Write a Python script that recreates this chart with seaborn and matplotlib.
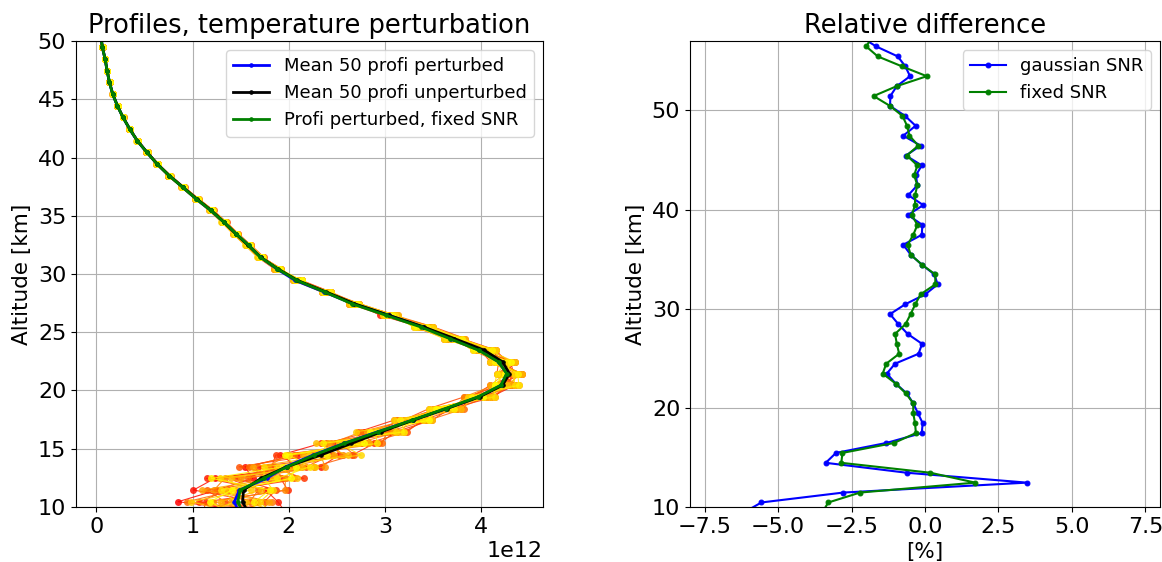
import numpy as np
import pandas as pd
import matplotlib
matplotlib.use("Agg")
import matplotlib.pyplot as plt
import seaborn as sns

# altitude grid [km]
ALT_KM = [9.45, 10.45, 11.45, 12.45, 13.45, 14.45, 15.45, 16.45, 17.45, 18.45,
          19.45, 20.45, 21.45, 22.45, 23.45, 24.45, 25.45, 26.45, 27.45, 28.45,
          29.45, 30.45, 31.45, 32.45, 33.45, 34.45, 35.45, 36.45, 37.45, 38.45,
          39.45, 40.45, 41.45, 42.45, 43.45, 44.45, 45.45, 46.45, 47.45, 48.45,
          49.45, 50.45, 51.45, 52.45, 53.45, 54.45, 55.45, 56.45, 57.45]

# mean unperturbed profile, units of 1e12
MEAN_UNPERT = [1.58, 1.52, 1.53, 1.71, 1.98, 2.33, 2.65, 2.96, 3.29, 3.64,
               3.98, 4.22, 4.29, 4.22, 4.03, 3.72, 3.40, 3.04, 2.68, 2.39,
               2.09, 1.885, 1.706, 1.579, 1.448, 1.327, 1.196, 1.044, 0.90, 0.758,
               0.634, 0.527, 0.427, 0.348, 0.279, 0.22, 0.172, 0.138, 0.114, 0.093,
               0.065, 0.048, 0.038, 0.031, 0.025, 0.020, 0.016, 0.013, 0.011]

# relative difference to the unperturbed mean [%]
REL_GAUSS = [-6.16, -5.57, -2.78, 3.47, -0.63, -3.38, -3.03, -1.32, -0.11, -0.08,
             -0.24, -0.40, -0.62, -1.00, -1.30, -1.02, -0.22, -0.10, -0.59, -0.91,
             -1.19, -0.67, 0.01, 0.43, 0.32, -0.11, -0.49, -0.74, -0.11, -0.09,
             -0.58, -0.06, -0.57, -0.26, -0.31, -0.11, -0.65, -0.15, -0.74, -0.32,
             -0.68, -1.19, -1.18, -0.96, -0.51, -0.67, -0.93, -1.66, -2.20]
REL_FIXED = [-3.50, -3.29, -2.21, 1.71, 0.18, -2.85, -2.81, -1.06, -0.31, -0.34,
             -0.40, -0.40, -0.65, -1.00, -1.44, -1.32, -0.88, -0.96, -1.02, -0.66,
             -0.49, -0.33, -0.15, 0.35, 0.35, -0.11, -0.49, -0.59, -0.40, -0.26,
             -0.45, -0.34, -0.34, -0.26, -0.37, -0.26, -0.62, -0.23, -0.53, -0.61,
             -0.77, -1.19, -1.75, -0.96, 0.06, -0.79, -1.61, -2.00, -1.79]

# single perturbed profiles: deviation [%] from the mean, 9.45 .. 30.45 km
PERT_LOW = [
    [12, -44, -18, -5, -22, -10, 4, -6, 2, -3, 1, 2, -1, 3, -2, 1, -2, 2, -1, 1, -1, 1],
    [-20, 10, -34, -28, 6, -18, -12, 3, -5, 2, -3, -1, 3, -2, 1, -3, 2, -1, 2, -2, 1, -1],
    [25, 24, 15, -33, 18, 8, -6, 8, 4, -4, 3, 3, -2, 1, 3, 2, -1, -3, 1, 0, -2, 2],
    [-30, -25, 30, 12, -15, 14, 9, -8, -6, 4, -2, -3, 2, -3, -1, 3, 3, 1, -2, 2, 2, -2],
    [5, -30, -10, 26, -8, -20, 11, 5, 6, 1, 4, 1, 1, 2, 2, -2, -3, 2, 2, -1, 0, 1],
    [-10, 15, 22, -15, 10, 5, -10, -4, -3, -5, -4, 4, -3, -1, -3, 0, 1, -2, -2, 2, -1, 0],
    [18, -12, -25, 20, -25, -3, 6, 9, 3, 3, 2, -2, 2, 0, 2, 2, -2, 3, 0, -2, 2, -1],
    [-25, 5, 10, -8, 14, 15, -4, -2, -4, -2, 3, 2, -2, 2, -2, -2, 2, 0, 2, 1, -1, 2],
    [30, -38, -5, 5, -20, -12, 12, 2, 5, 5, -3, -1, 3, -2, 3, 1, -1, -2, 1, 2, 1, -2],
    [-15, 20, -20, -22, 2, 10, -8, -7, -2, -3, 1, 3, -3, 3, -1, -3, 3, 2, -1, -2, -2, 1],
    [10, -20, 28, 15, -10, -15, 2, 6, -5, 2, -4, -2, 1, -3, 1, 2, 0, -1, -2, 1, 2, 0],
    [-5, -8, -2, -12, 20, 0, -2, -3, 1, -1, 2, 1, -1, 1, 0, -1, 1, 1, 1, -1, 0, -1],
    [8, 18, -28, 8, -18, 6, -9, 4, -3, 3, -2, 2, 2, -1, -2, 2, 1, -2, 1, -1, 1, 1],
    [-18, -15, 12, -18, 8, -8, 7, -5, 4, -2, 2, -3, -1, 2, 2, -1, -2, 1, -1, 2, -1, -1],
    [22, 2, -12, 22, -5, 12, -14, 7, -1, 4, -1, 1, 3, -2, -2, 3, 2, -1, 2, 0, 1, -2],
    [-8, -35, 5, -25, 15, -5, 3, -9, 6, -4, 3, -1, -2, 3, 1, -2, -1, 3, -2, 1, -2, 2],
    [15, 12, 20, 2, -12, 18, -5, 5, -6, 1, -3, 3, 1, -3, 3, 1, 3, -2, 0, -1, 2, -1],
    [-28, -5, -15, 10, 12, -14, 10, -2, 3, -5, 4, -2, -3, 1, -1, -3, -2, 2, 2, -2, 0, 1],
    [4, 8, 18, -30, -2, 3, -11, 8, -4, 2, -2, 4, 2, -2, 2, 2, 1, -1, -1, 2, -1, 0],
    [-12, -22, -8, 18, 5, -16, 5, -4, 5, -3, 1, -2, -1, 2, -3, 0, -3, 1, 1, -1, 2, 1],
]
# deviation [%] of each profile above 30.45 km
PERT_HIGH = [1.5, -1.2, 0.8, -1.8, 1.0, -0.6, 2.0, -1.5, 0.4, -1.0,
             1.2, -0.3, -1.4, 1.8, -0.8, 0.6, -2.0, 1.3, -0.5, 0.9]


def main():
    alt = np.array(ALT_KM)
    mean_unp = np.array(MEAN_UNPERT) * 1e12
    mean_pert = mean_unp * (1 + np.array(REL_GAUSS) / 100)
    fixed_snr = mean_unp * (1 + np.array(REL_FIXED) / 100)

    rows = []
    for i, (low, high) in enumerate(zip(PERT_LOW, PERT_HIGH)):
        dev = list(low) + [high] * (len(alt) - len(low))
        for a, m, d in zip(alt, mean_unp, dev):
            rows.append({'profile': i, 'alt': a, 'val': m * (1 + d / 100)})
    ens = pd.DataFrame(rows)

    fig = plt.figure(figsize=(11.62, 5.62), dpi=100)
    ax1 = fig.add_axes([0.0654, 0.098, 0.4019, 0.829])
    ax2 = fig.add_axes([0.5938, 0.098, 0.4045, 0.829])

    # left: profiles
    sns.lineplot(data=ens, x='val', y='alt', hue='profile', units='profile',
                 estimator=None, sort=False, palette='autumn', legend=False,
                 marker='o', markersize=5, markeredgewidth=0, linewidth=0.8,
                 alpha=0.85, ax=ax1)
    sns.lineplot(x=mean_pert, y=alt, sort=False, estimator=None, color='blue',
                 marker='.', markersize=5, markeredgecolor='blue', linewidth=2,
                 label='Mean 50 profi perturbed', ax=ax1)
    sns.lineplot(x=mean_unp, y=alt, sort=False, estimator=None, color='black',
                 marker='.', markersize=5, markeredgecolor='black', linewidth=2,
                 label='Mean 50 profi unperturbed', ax=ax1)
    sns.lineplot(x=fixed_snr, y=alt, sort=False, estimator=None, color='green',
                 marker='.', markersize=5, markeredgecolor='green', linewidth=2,
                 label='Profi perturbed, fixed SNR', ax=ax1)
    ax1.set_ylim(10, 50)
    ax1.set_title('Profiles, temperature perturbation', fontsize=18.5)
    ax1.set_ylabel('Altitude [km]', fontsize=15.5)
    ax1.set_xlabel('')
    ax1.grid(True)
    ax1.tick_params(labelsize=16)
    ax1.xaxis.get_offset_text().set_fontsize(16)
    ax1.legend(loc='upper right', fontsize=13)

    # right: relative difference
    sns.lineplot(x=REL_GAUSS, y=alt, sort=False, estimator=None, color='blue',
                 marker='.', markersize=7, markeredgecolor='blue', linewidth=1.5,
                 label='gaussian SNR', ax=ax2)
    sns.lineplot(x=REL_FIXED, y=alt, sort=False, estimator=None, color='green',
                 marker='.', markersize=7, markeredgecolor='green', linewidth=1.5,
                 label='fixed SNR', ax=ax2)
    ax2.set_xlim(-8, 8)
    ax2.set_ylim(10, 57)
    ax2.set_xticks([-7.5, -5.0, -2.5, 0.0, 2.5, 5.0, 7.5])
    ax2.set_title('Relative difference', fontsize=18.5)
    ax2.set_xlabel('[%]', fontsize=15.5)
    ax2.set_ylabel('Altitude [km]', fontsize=15.5)
    ax2.grid(True)
    ax2.tick_params(labelsize=16)
    ax2.legend(loc='upper right', fontsize=13)

    fig.savefig('out.png', dpi=100)
    plt.close(fig)


if __name__ == "__main__":
    main()
